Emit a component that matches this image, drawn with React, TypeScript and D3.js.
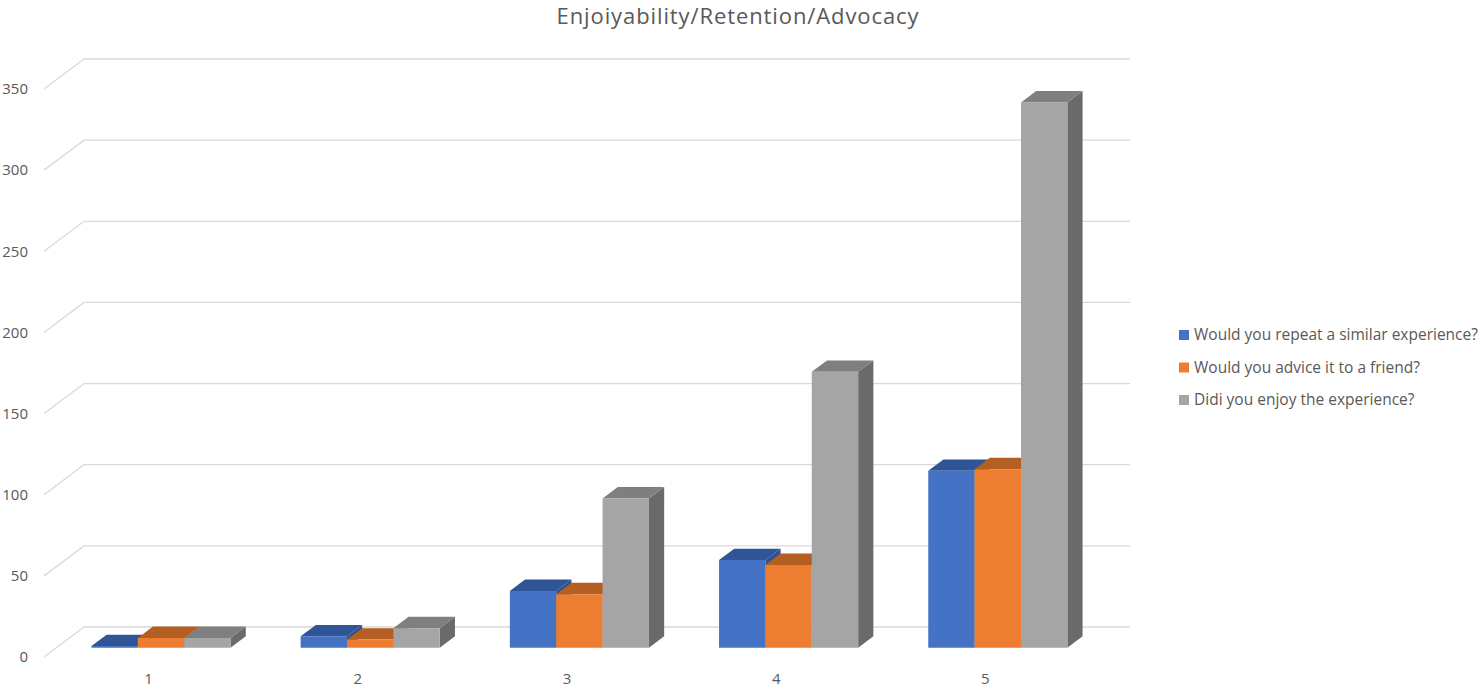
import React from "react";
import * as d3 from "d3";

const categories = ["1", "2", "3", "4", "5"];
const seriesNames = [
  "Would you repeat a similar experience?",
  "Would you advice it to a friend?",
  "Didi you enjoy the experience?",
];
const repeatValues = [1, 7, 35, 54, 109];
const adviceValues = [6, 5, 33, 51, 110];
const enjoyValues = [6, 12, 92, 170, 336];
const yTicks = [0, 50, 100, 150, 200, 250, 300, 350];

const frontColors = ["#4472C4", "#ED7D31", "#A5A5A5"];
const topColors = ["#2F5597", "#B55E22", "#7F7F7F"];
const sideColors = ["#2E5190", "#A9561D", "#6A6A6A"];

const W = 1479;
const H = 687;
const DX = 40; // full depth offset x
const DY = -30; // full depth offset y
const D0 = 0.31;
const D1 = 0.69;

export default function App() {
  const series = [repeatValues, adviceValues, enjoyValues];
  const y = d3.scaleLinear().domain([0, 350]).range([657, 89]);
  const x = d3.scaleBand<string>().domain(categories).range([44, 1090]).paddingInner(0.335).paddingOuter(0.1675);
  const xs = d3.scaleBand<number>().domain([0, 1, 2]).range([0, x.bandwidth()]);

  const P = (px: number, v: number, d: number): [number, number] => [px + DX * d, y(v) + DY * d];
  const poly = (pts: [number, number][]) => pts.map((p) => p.join(",")).join(" ");

  const bars: React.ReactNode[] = [];
  categories.forEach((c, ci) => {
    series.forEach((vals, si) => {
      const v = vals[ci];
      const xl = (x(c) as number) + (xs(si) as number);
      const xr = xl + xs.bandwidth();
      const front = [P(xl, 0, D0), P(xr, 0, D0), P(xr, v, D0), P(xl, v, D0)] as [number, number][];
      const side = [P(xr, 0, D0), P(xr, 0, D1), P(xr, v, D1), P(xr, v, D0)] as [number, number][];
      const top = [P(xl, v, D0), P(xr, v, D0), P(xr, v, D1), P(xl, v, D1)] as [number, number][];
      bars.push(
        <g key={`${ci}-${si}`}>
          <polygon points={poly(side)} fill={sideColors[si]} />
          <polygon points={poly(top)} fill={topColors[si]} />
          <polygon points={poly(front)} fill={frontColors[si]} />
        </g>
      );
    });
  });

  const font = "'Open Sans', 'Noto Sans', sans-serif";
  const textColor = "#595959";

  return (
    <svg width={W} height={H} style={{ position: "absolute", left: 0, top: 0, background: "#fff" }} fontFamily={font}>
      <text x={738} y={24} textAnchor="middle" fontSize={22} letterSpacing={0.9} fill={textColor}>
        Enjoiyability/Retention/Advocacy
      </text>
      {yTicks.map((t) => {
        const [fx, fy] = P(44, t, 0);
        const [bx, by] = P(44, t, 1);
        return (
          <g key={t}>
            <polyline
              points={`${fx},${fy} ${bx},${by} ${1130},${by}`}
              fill="none"
              stroke="#D9D9D9"
              strokeWidth={1.3}
            />
            <text x={28} y={fy} dy="0.35em" textAnchor="end" fontSize={15} fill={textColor}>
              {t}
            </text>
          </g>
        );
      })}
      {bars}
      {categories.map((c) => (
        <text
          key={c}
          x={(x(c) as number) + x.bandwidth() / 2}
          y={684}
          textAnchor="middle"
          fontSize={15}
          fill={textColor}
        >
          {c}
        </text>
      ))}
      {seriesNames.map((n, i) => (
        <g key={n} transform={`translate(1179, ${340 + i * 32.5})`}>
          <rect x={0} y={-10} width={10} height={10} fill={frontColors[i]} />
          <text x={15} y={0} fontSize={15.5} fill={textColor}>
            {n}
          </text>
        </g>
      ))}
    </svg>
  );
}
